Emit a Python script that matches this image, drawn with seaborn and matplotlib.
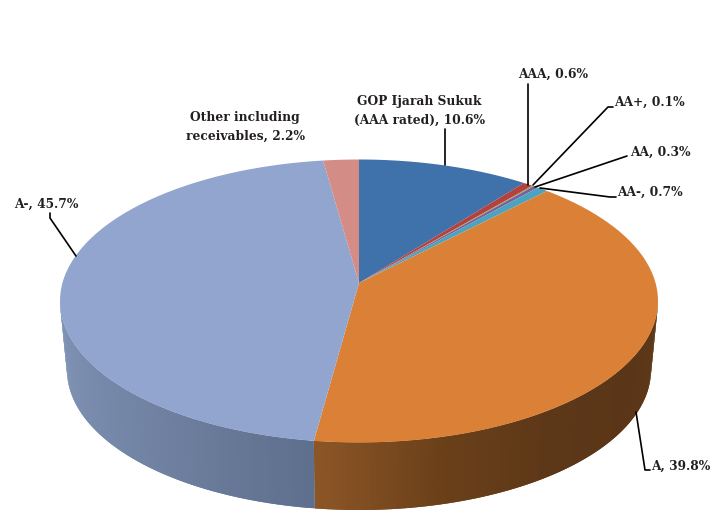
"""3D-look pie of portfolio credit quality."""

import matplotlib.pyplot as plt
import numpy as np
import seaborn as sns
from matplotlib.path import Path
from matplotlib.transforms import Affine2D, Transform

categories = ["GOP Ijarah Sukuk\n(AAA rated)", "AAA", "AA+", "AA", "AA-", "A", "A-", "Other including\nreceivables"]
shares = [10.6, 0.6, 0.1, 0.3, 0.7, 39.8, 45.7, 2.2]
top_colors = ["#3F72AB", "#B5413F", "#8FA84E", "#7A5F9A", "#4BA3BF", "#DA8137", "#92A5CE", "#D48C87"]
side_colors = {"A": ["#5E3A19", "#5A3517", "#5C3718", "#6A4019", "#8C5526"], "A-": ["#5F6F8E", "#7385A5", "#8195B8"]}

# top face and rim of the disc, in pixels
CX, APEX_Y, TOP_Y, RX, RY = 359.0, 283.0, 301.0, 299.0, 141.5
BOTTOM_Y, BOTTOM_RX, BOTTOM_RY = 370.0, 292.0, 140.0
SQUEEZE = 0.87  # perspective: slices at the back look narrower


def warp(phi):
    """Clockwise angle from 12 o'clock (radians) to its angle on the drawn ellipse."""
    return 2 * np.arctan2(SQUEEZE * np.sin(phi / 2), np.cos(phi / 2))


class Tilt(Transform):
    """Unit pie to an ellipse, with the apex pushed up off its centre."""

    input_dims = 2
    output_dims = 2

    def transform_non_affine(self, values):
        x, y = values[:, 0], values[:, 1]
        r = np.hypot(x, y)
        psi = warp(np.arctan2(x, y))
        return np.column_stack([CX + RX * r * np.sin(psi), APEX_Y + r * (TOP_Y - APEX_Y - RY * np.cos(psi))])

    def transform_path_non_affine(self, path):
        # flatten the arcs first, the warp does not keep bezier control points
        polys = path.transformed(Affine2D().scale(500)).to_polygons(closed_only=False)
        return Path(self.transform_non_affine(np.vstack(polys) / 500))


def draw_side(ax, wedge, palette):
    start = warp(np.radians(90 - wedge.theta2))
    stop = warp(np.radians(90 - wedge.theta1))
    n = 80
    edges = np.linspace(max(start, np.pi / 2), min(stop, 3 * np.pi / 2), n + 1)
    colors = sns.blend_palette(palette, n)
    # each strip reaches under the next one so no seams show
    for i in range(n):
        t = edges[i : i + 3]
        xs = np.r_[CX + RX * np.sin(t), CX + BOTTOM_RX * np.sin(t[::-1])]
        ys = np.r_[TOP_Y - RY * np.cos(t), BOTTOM_Y - BOTTOM_RY * np.cos(t[::-1])]
        ax.fill(xs, ys, color=colors[i], linewidth=0, zorder=1)


sns.set_theme(style="white")
plt.rcParams["font.family"] = ["DejaVu Serif"]

fig = plt.figure(figsize=(7.2, 5.19), dpi=100)
ax = fig.add_axes([0, 0, 1, 1])
wedges, _ = ax.pie(shares, colors=top_colors, startangle=90, counterclock=False, wedgeprops={"linewidth": 0})
tilt = Tilt()
for wedge, name in zip(wedges, categories):
    wedge.set_transform(tilt + ax.transData)
    wedge.set_zorder(2)
    if name in side_colors:
        draw_side(ax, wedge, side_colors[name])

ax.set_aspect("auto")
ax.set_xlim(0, 720)
ax.set_ylim(519, 0)
ax.axis("off")

leaders = [
    ([445, 445], [129, 165]),
    ([528, 528], [84, 185]),
    ([533, 608, 613], [185, 107, 107]),
    ([535, 627], [187, 156]),
    ([540, 610, 616], [188, 197, 197]),
    ([636, 645, 650], [412, 470, 470]),
    ([76, 50, 50], [256, 218, 213]),
]
for xs, ys in leaders:
    ax.plot(xs, ys, color="black", linewidth=1.2, zorder=3)

label_spots = {
    "GOP Ijarah Sukuk\n(AAA rated)": (419, 111, "center"),
    "AAA": (553, 74, "center"),
    "AA+": (614, 102, "left"),
    "AA": (630, 152, "left"),
    "AA-": (617, 192, "left"),
    "A": (651, 466, "left"),
    "A-": (14, 204, "left"),
    "Other including\nreceivables": (245, 127, "center"),
}
for name, share in zip(categories, shares):
    x, y, ha = label_spots[name]
    ax.text(x, y, f"{name}, {share}%", ha=ha, va="center", fontsize=8.8, fontweight="bold",
            color="#231F20", linespacing=1.55, zorder=4)

fig.savefig("out.png", dpi=100)
plt.close(fig)
